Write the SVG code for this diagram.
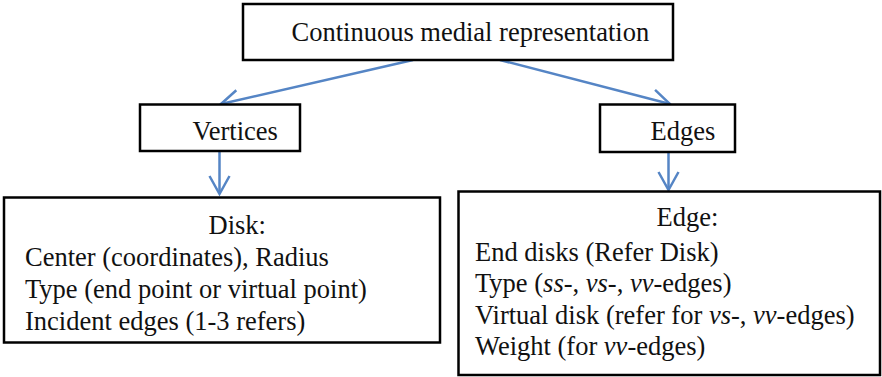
<svg xmlns="http://www.w3.org/2000/svg" width="882" height="377" viewBox="0 0 882 377" font-family="Liberation Serif, Times New Roman, serif">
<style>
.box{fill:#fff;stroke:#000;stroke-width:2.5}
.t{font-size:26.5px;fill:#111}
.c{fill:none;stroke:#5585c5;stroke-width:2.5}
</style>
<defs>
<marker id="ah" markerUnits="userSpaceOnUse" markerWidth="40" markerHeight="40" refX="0" refY="0" viewBox="-25 -20 30 40" orient="auto">
<path d="M-18,-10 L0,0 L-18,10" fill="none" stroke="#5585c5" stroke-width="2.5"/>
</marker>
</defs>
<g id="connectors">
<line class="c" x1="413" y1="60" x2="221" y2="104" marker-end="url(#ah)"/>
<line class="c" x1="500" y1="60" x2="670" y2="104" marker-end="url(#ah)"/>
<line class="c" x1="219.5" y1="151" x2="219.5" y2="194" marker-end="url(#ah)"/>
<line class="c" x1="668.5" y1="152" x2="668.5" y2="190" marker-end="url(#ah)"/>
</g>
<g id="root">
<rect class="box" x="243" y="4" width="430" height="56"/>
<text class="t" font-family="Liberation Serif" x="291.5" y="41">Continuous medial representation</text>
</g>
<g id="vertices">
<rect class="box" x="140" y="104.5" width="160" height="46.5"/>
<text class="t" font-family="Liberation Serif" x="192.5" y="140">Vertices</text>
</g>
<g id="edges">
<rect class="box" x="600" y="104.5" width="135" height="47.5"/>
<text class="t" font-family="Liberation Serif" x="650.5" y="140">Edges</text>
</g>
<g id="disk">
<rect class="box" x="4" y="197.5" width="436" height="145"/>
<text class="t" font-family="Liberation Serif" x="208.5" y="234">Disk:</text>
<text class="t" font-family="Liberation Serif" x="25" y="266">Center (coordinates), Radius</text>
<text class="t" font-family="Liberation Serif" x="25" y="298">Type (end point or virtual point)</text>
<text class="t" font-family="Liberation Serif" x="25" y="330">Incident edges (1-3 refers)</text>
</g>
<g id="edge">
<rect class="box" x="458.5" y="191.5" width="421.5" height="183.5"/>
<text class="t" font-family="Liberation Serif" x="656.5" y="226">Edge:</text>
<text class="t" font-family="Liberation Serif" x="475" y="261">End disks (Refer Disk)</text>
<text class="t" font-family="Liberation Serif" x="475" y="292">Type (<tspan font-style="italic">ss</tspan>-, <tspan font-style="italic">vs</tspan>-, <tspan font-style="italic">vv</tspan>-edges)</text>
<text class="t" font-family="Liberation Serif" x="475" y="324">Virtual disk (refer for <tspan font-style="italic">vs</tspan>-, <tspan font-style="italic">vv</tspan>-edges)</text>
<text class="t" font-family="Liberation Serif" x="475" y="355">Weight (for <tspan font-style="italic">vv</tspan>-edges)</text>
</g>
</svg>
